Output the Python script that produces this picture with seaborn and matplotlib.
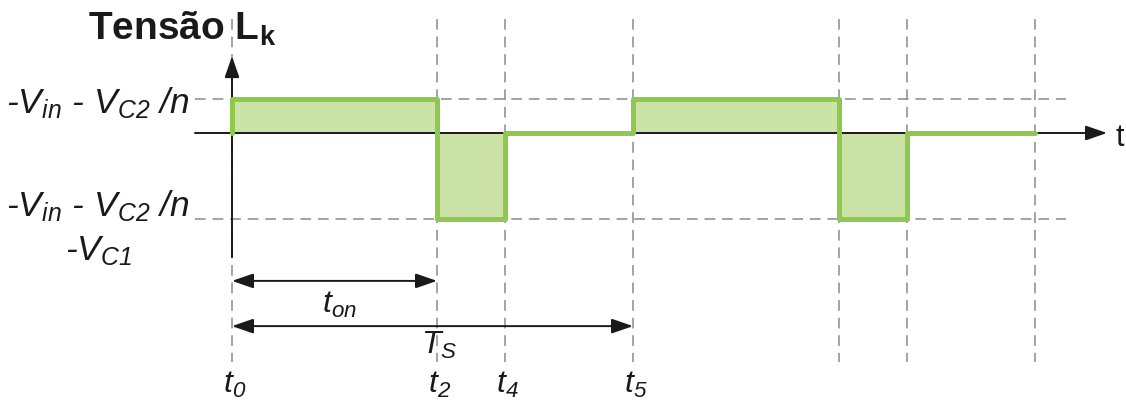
import numpy as np
import matplotlib
matplotlib.use("Agg")
import matplotlib.pyplot as plt
import seaborn as sns

# Switching instants (one period and a half) and the Lk voltage level in each interval
edges = [0.0, 2.05, 2.73, 4.01, 6.07, 6.75, 8.03]
levels = [1.0, -2.53, 0.0, 1.0, -2.53, 0.0]
high_level = 1.0
low_level = -2.53

# Labelled instants
tick_times = [0.0, 2.05, 2.73, 4.01]
tick_labels = ["t$_0$", "t$_2$", "t$_4$", "t$_5$"]
t_on = 2.05
T_s = 4.01

sns.set_theme(style="white")
plt.rcParams["font.family"] = ["Liberation Sans", "DejaVu Sans"]
plt.rcParams["mathtext.fontset"] = "custom"
plt.rcParams["mathtext.rm"] = "Liberation Sans:italic"
plt.rcParams["mathtext.it"] = "Liberation Sans:italic"
plt.rcParams["mathtext.bf"] = "Liberation Sans:bold"

GREEN = "#8fc94c"
FILL = "#cce3a8"
GREY = "#8a8a8a"
INK = "#1a1a1a"

fig = plt.figure(figsize=(11.26, 4.06), dpi=100)
ax = fig.add_axes([0, 0, 1, 1])
ax.set_xlim(-2.32, 8.94)
ax.set_ylim(-8.0, 134 / 34)
ax.axis("off")

# Step waveform vertices
xs = np.repeat(edges, 2)
ys = np.concatenate([[0.0], np.repeat(levels, 2), [0.0]])

# Dashed guide lines
for e in edges:
    ax.plot([e, e], [3.35, -6.74], color=GREY, lw=1.1, dashes=(7, 4.5), zorder=1)
for lv in (high_level, low_level):
    ax.plot([-0.37, 8.34], [lv, lv], color=GREY, lw=1.1, dashes=(7, 4.5), zorder=1)

# Shaded area and waveform
ax.fill_between(xs, ys, 0, color=FILL, lw=0, zorder=2)

# Axes with arrow heads
arrow_kw = dict(arrowstyle="-|>,head_length=1.3,head_width=0.45", mutation_scale=10,
                color=INK, lw=1.4, shrinkA=0, shrinkB=0)
ax.annotate("", xy=(8.75, 0), xytext=(-0.37, 0), arrowprops=arrow_kw, zorder=3)
ax.annotate("", xy=(0, 2.26), xytext=(0, -3.65), arrowprops=arrow_kw, zorder=3)

sns.lineplot(x=xs, y=ys, ax=ax, color=GREEN, lw=3.6, sort=False, estimator=None,
             solid_joinstyle="round", solid_capstyle="round", zorder=4)

# Interval arrows
dbl_kw = dict(arrowstyle="<|-|>,head_length=1.3,head_width=0.45", mutation_scale=10,
              color=INK, lw=1.4, shrinkA=0, shrinkB=0)
ax.annotate("", xy=(t_on, -4.35), xytext=(0, -4.35), arrowprops=dbl_kw)
ax.annotate("", xy=(T_s, -5.68), xytext=(0, -5.68), arrowprops=dbl_kw)

lab_kw = dict(fontsize=23, fontstyle="italic", color=INK)
ax.text(1.08, -5.26, "t$_{on}$", ha="center", va="baseline", **lab_kw)
ax.text(2.07, -6.47, "T$_{S}$", ha="center", va="baseline", **lab_kw)
for t, lab in zip(tick_times, tick_labels):
    ax.text(t - 0.09, -7.62, lab, ha="left", va="baseline", **lab_kw)

# Level labels
lvl_kw = dict(fontsize=25.5, fontstyle="italic", color=INK)
ax.text(-0.42, 0.62, "-V$_{in}$ - V$_{C2}$ /n", ha="right", va="baseline", **lvl_kw)
ax.text(-0.42, -2.41, "-V$_{in}$ - V$_{C2}$ /n", ha="right", va="baseline", **lvl_kw)
ax.text(-1.0, -3.71, "-V$_{C1}$", ha="right", va="baseline", **lvl_kw)

ax.text(-1.44, 2.76, r"Tensão L$_{\mathbf{k}}$", ha="left", va="baseline",
        fontsize=28, fontweight="bold", color=INK)
ax.text(8.83, -0.35, "t", ha="left", va="baseline", fontsize=22, color=INK)

fig.savefig("out.png", dpi=100)
